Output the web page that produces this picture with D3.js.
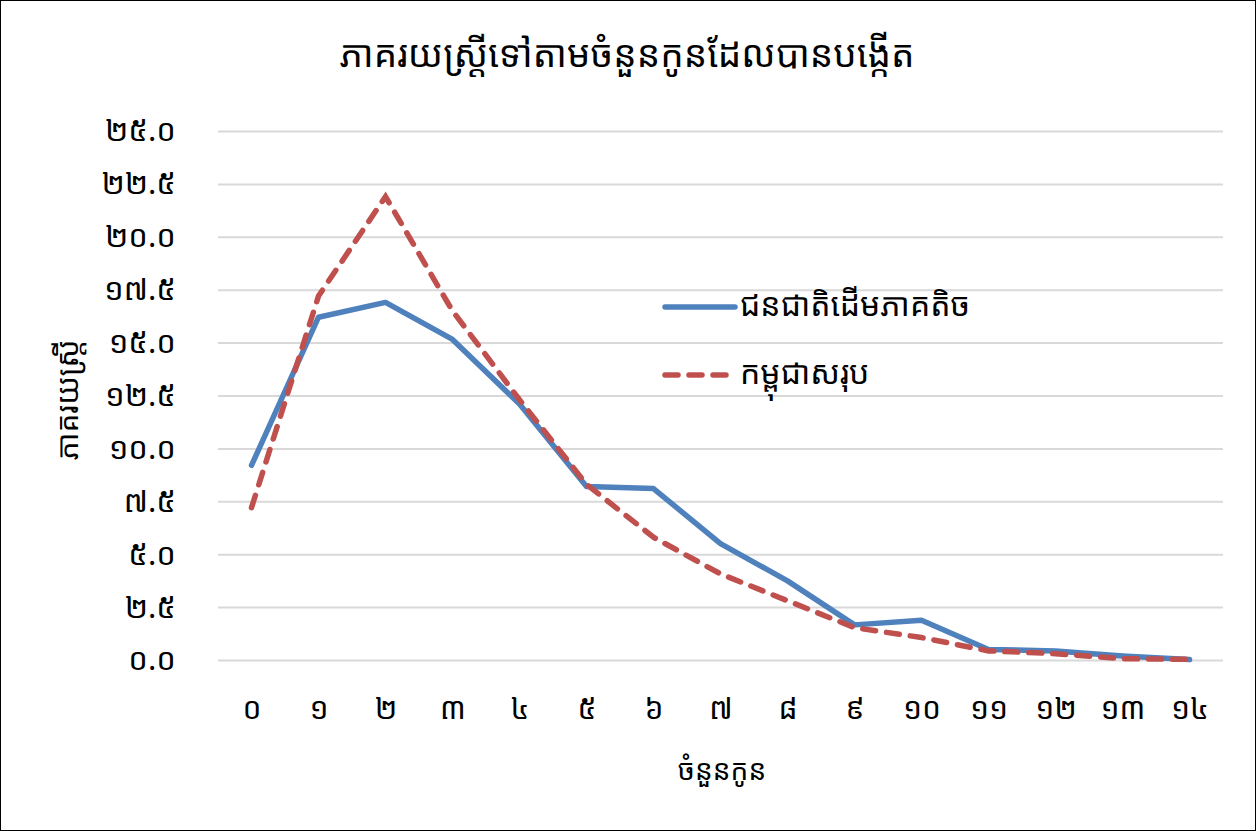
<!DOCTYPE html>
<html>
<head>
  <meta charset="utf-8">
  <title>ភាគរយស្ត្រី</title>
  <script src="https://cdn.jsdelivr.net/npm/d3@7"></script>
  <style>
    body { margin: 0; background: #fff; }
    text { font-family: "Noto Sans Khmer", "Khmer OS", "Noto Sans", "DejaVu Sans", sans-serif; fill: #000; }
  </style>
</head>
<body>
<script>
  // ទិន្នន័យ
  const categories = ["០", "១", "២", "៣", "៤", "៥", "៦", "៧", "៨", "៩", "១០", "១១", "១២", "១៣", "១៤"];
  const indigenous = [9.2, 16.2, 16.9, 15.15, 12.1, 8.2, 8.1, 5.5, 3.74, 1.66, 1.88, 0.5, 0.43, 0.19, 0.02];
  const cambodia = [7.2, 17.2, 21.9, 16.5, 12.3, 8.3, 5.8, 4.07, 2.8, 1.53, 1.06, 0.43, 0.3, 0.06, 0.03];
  const yTicks = [0, 2.5, 5, 7.5, 10, 12.5, 15, 17.5, 20, 22.5, 25];
  const seriesNames = ["ជនជាតិដើមភាគតិច", "កម្ពុជាសរុប"];

  const khmerDigits = "០១២៣៤៥៦៧៨៩";
  function toKhmer(s) {
    return String(s).replace(/[0-9]/g, function (c) { return khmerDigits[+c]; });
  }

  const W = 1256, H = 831;
  const plot = { left: 218, right: 1223, top: 131, bottom: 660 };

  const svg = d3.select("body").append("svg")
    .attr("width", W)
    .attr("height", H);

  // ស៊ុម
  svg.append("rect")
    .attr("x", 0.5).attr("y", 0.5)
    .attr("width", W - 1).attr("height", H - 1)
    .attr("fill", "#fff")
    .attr("stroke", "#000");

  const x = d3.scalePoint()
    .domain(categories)
    .range([plot.left, plot.right])
    .padding(0.5);

  const y = d3.scaleLinear()
    .domain([0, 25])
    .range([plot.bottom, plot.top]);

  // បន្ទាត់ក្រឡា
  const yAxis = d3.axisLeft(y)
    .tickValues(yTicks)
    .tickSize(-(plot.right - plot.left))
    .tickPadding(42)
    .tickFormat(function (d) { return toKhmer(d.toFixed(1)); });

  const gy = svg.append("g")
    .attr("transform", "translate(" + plot.left + ",0)")
    .call(yAxis);
  gy.select(".domain").remove();
  gy.selectAll(".tick line").attr("stroke", "#d9d9d9").attr("stroke-width", 2);
  gy.selectAll(".tick text").attr("font-size", 31).attr("fill", "#000");

  const xAxis = d3.axisBottom(x)
    .tickSize(0)
    .tickPadding(38);

  const gx = svg.append("g")
    .attr("transform", "translate(0," + plot.bottom + ")")
    .call(xAxis);
  gx.select(".domain").remove();
  gx.selectAll(".tick text").attr("font-size", 30).attr("fill", "#000");

  // ខ្សែ
  const line = d3.line()
    .x(function (d, i) { return x(categories[i]); })
    .y(function (d) { return y(d); });

  svg.append("path")
    .datum(indigenous)
    .attr("d", line)
    .attr("fill", "none")
    .attr("stroke", "#4f81bd")
    .attr("stroke-width", 5.5)
    .attr("stroke-linejoin", "round")
    .attr("stroke-linecap", "round");

  svg.append("path")
    .datum(cambodia)
    .attr("d", line)
    .attr("fill", "none")
    .attr("stroke", "#c0504d")
    .attr("stroke-width", 5.5)
    .attr("stroke-dasharray", "13,11")
    .attr("stroke-linecap", "round");

  // ចំណងជើង
  svg.append("text")
    .attr("x", 627).attr("y", 57)
    .attr("text-anchor", "middle")
    .attr("dominant-baseline", "middle")
    .attr("font-size", 37)
    .text("ភាគរយស្ត្រីទៅតាមចំនួនកូនដែលបានបង្កើត");

  svg.append("text")
    .attr("transform", "translate(70,400) rotate(-90)")
    .attr("text-anchor", "middle")
    .attr("dominant-baseline", "middle")
    .attr("font-size", 30)
    .text("ភាគរយស្ត្រី");

  svg.append("text")
    .attr("x", 722).attr("y", 772)
    .attr("text-anchor", "middle")
    .attr("dominant-baseline", "middle")
    .attr("font-size", 28)
    .text("ចំនួនកូន");

  // គន្លឹះ
  const legend = svg.append("g").attr("transform", "translate(665,307)");
  const styles = [
    { stroke: "#4f81bd", dash: null },
    { stroke: "#c0504d", dash: "13,11" }
  ];
  seriesNames.forEach(function (name, i) {
    const g = legend.append("g").attr("transform", "translate(0," + (i * 68) + ")");
    g.append("line")
      .attr("x1", 0).attr("x2", 70)
      .attr("stroke", styles[i].stroke)
      .attr("stroke-width", 5.5)
      .attr("stroke-linecap", "round")
      .attr("stroke-dasharray", styles[i].dash);
    g.append("text")
      .attr("x", 75)
      .attr("dominant-baseline", "middle")
      .attr("font-size", 32)
      .text(name);
  });
</script>
</body>
</html>
